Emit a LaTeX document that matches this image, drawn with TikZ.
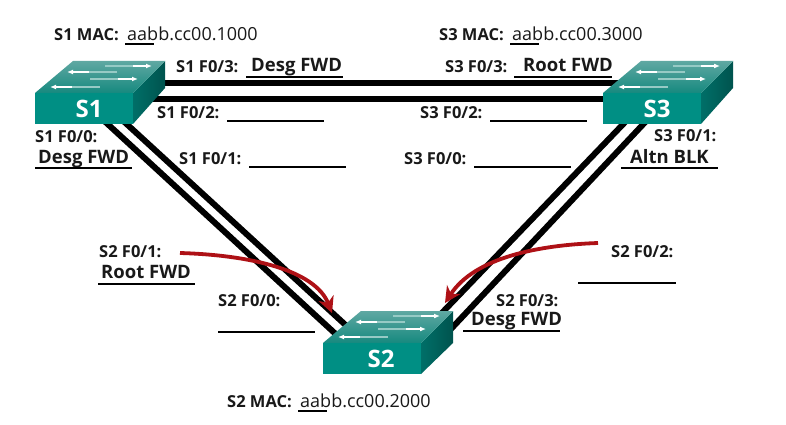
\documentclass[tikz,border=0pt]{standalone}
\usepackage{fontspec}
\setmainfont{Open Sans}
\usetikzlibrary{calc,arrows.meta,backgrounds}
\definecolor{swfront}{HTML}{008F84}
\definecolor{swtop}{HTML}{5FA8A2}
\definecolor{swtopb}{HTML}{16897F}
\definecolor{swside}{HTML}{006F68}
\definecolor{arrred}{HTML}{AE1116}
\tikzset{
  x=1pt,y=-1pt,
  swlabel/.style={font=\bfseries\fontsize{24}{24}\selectfont,text=white,inner sep=0pt},
  lbl/.style={font=\bfseries\fontsize{16.5}{16.5}\selectfont,anchor=base west,inner sep=0pt,text=black!90},
  state/.style={font=\bfseries\fontsize{18.5}{18.5}\selectfont,anchor=base west,inner sep=0pt,text=black!90},
  mac/.style={font=\fontsize{18}{18}\selectfont,anchor=base west,inner sep=0pt,text=black!90},
  link/.style={line width=6pt,black},
  uline/.style={line width=1.5pt,black},
  redarrow/.style={line width=3.8pt,arrred,-{Stealth[length=16pt,width=16pt,inset=5pt]}},
  pktbase/.style={line width=1.8pt,white!55!swtopb},
  pkt/.style={line width=2pt,white,-{Latex[length=6pt,width=5pt]}}
}
\newcommand{\switchbody}[5]{% name, x, y, label x offset, side bottom y
  \begin{scope}[shift={(#2,#3)}]
    \shade[left color=swside,right color=swside!75!black] (98,0) -- (130,-32) -- (130,#5) -- (98,31) -- cycle;
    \shade[top color=swtop,bottom color=swtopb] (0,0) -- (38,-32) -- (130,-32) -- (98,0) -- cycle;
    \fill[swfront] (0,0) rectangle (98,31);
    \draw[pktbase] (70,-27) -- (100,-27);
    \draw[pkt] (98,-27) -- (117,-27);
    \draw[pktbase] (82,-21) -- (52,-21);
    \draw[pkt] (54,-21) -- (32,-21);
    \draw[pktbase] (55,-14) -- (85,-14);
    \draw[pkt] (83,-14) -- (103,-14);
    \draw[pktbase] (65,-6) -- (35,-6);
    \draw[pkt] (37,-6) -- (15,-6);
    \node[swlabel] (#1) at (#4,16) {#1};
  \end{scope}
}
\begin{document}
\begin{tikzpicture}
\useasboundingbox (0,0) rectangle (786,425);
\switchbody{S1}{35}{93}{54}{-5}
\switchbody{S3}{603}{93}{54}{-5}
\switchbody{S2}{323}{343}{58}{0}
\begin{scope}[on background layer]
\fill[white] (0,0) rectangle (786,425);
\draw[link] ($(S1)+(61,-26)$) -- ($(S3)+(-27,-26)$);
\draw[link] ($(S1)+(31,-10)$) -- ($(S3)+(-37,-10)$);
\draw[link] ($(S1)+(11,8)$) -- ($(S2)+(-41,-21)$);
\draw[link] ($(S1)+(30,8)$) -- ($(S2)+(-30,-29)$);
\draw[link] ($(S3)+(-27,8)$) -- ($(S2)+(57,-42)$);
\draw[link] ($(S3)+(-7,8)$) -- ($(S2)+(69,-29)$);
\end{scope}
\coordinate (rl) at (180,253);
\coordinate (rr) at (598,243);
\draw[redarrow] (rl) .. controls (250,255) and (315,270) .. ($(S2)+(-49,-46)$);
\draw[redarrow] (rr) .. controls (540,245) and (475,257) .. ($(S2)+(64,-56)$);
\node[lbl] (t1) at (54,41) {S1 MAC:};
\node[mac] (t2) at (127,41) {aabb.cc00.1000};
\node[lbl] (t3) at (439,41) {S3 MAC:};
\node[mac] (t4) at (512,41) {aabb.cc00.3000};
\node[lbl] (t5) at (227,407) {S2 MAC:};
\node[mac] (t6) at (300,407) {aabb.cc00.2000};
\node[lbl] (t7) at (176,73) {S1 F0/3:};
\node[state] (t8) at (251,72) {Desg FWD};
\node[lbl] (t9) at (157,118) {S1 F0/2:};
\node[lbl] (t10) at (179,164) {S1 F0/1:};
\node[lbl] (t11) at (35,142) {S1 F0/0:};
\node[state] (t12) at (38,163) {Desg FWD};
\node[lbl] (t13) at (445,73) {S3 F0/3:};
\node[state] (t14) at (523,72) {Root FWD};
\node[lbl] (t15) at (420,118) {S3 F0/2:};
\node[lbl] (t16) at (404,164) {S3 F0/0:};
\node[lbl] (t17) at (654,141) {S3 F0/1:};
\node[state] (t18) at (630,163) {Altn BLK};
\node[lbl] (t19) at (99,257) {S2 F0/1:};
\node[state] (t20) at (101,278) {Root FWD};
\node[lbl] (t21) at (218,306) {S2 F0/0:};
\node[lbl] (t22) at (611,257) {S2 F0/2:};
\node[lbl] (t23) at (496,306) {S2 F0/3:};
\node[state] (t24) at (471,325) {Desg FWD};
\foreach \xa/\xb/\yy in {125/154/44,510/539/44,298/327/411,246/343/77,227/324/121,249/346/167,35/132/168,514/612/77,490/587/121,474/571/167,621/718/168,98/195/284,218/315/332,578/676/283,463/560/331}
  \draw[uline] (\xa,\yy) -- (\xb,\yy);
\end{tikzpicture}
\end{document}
